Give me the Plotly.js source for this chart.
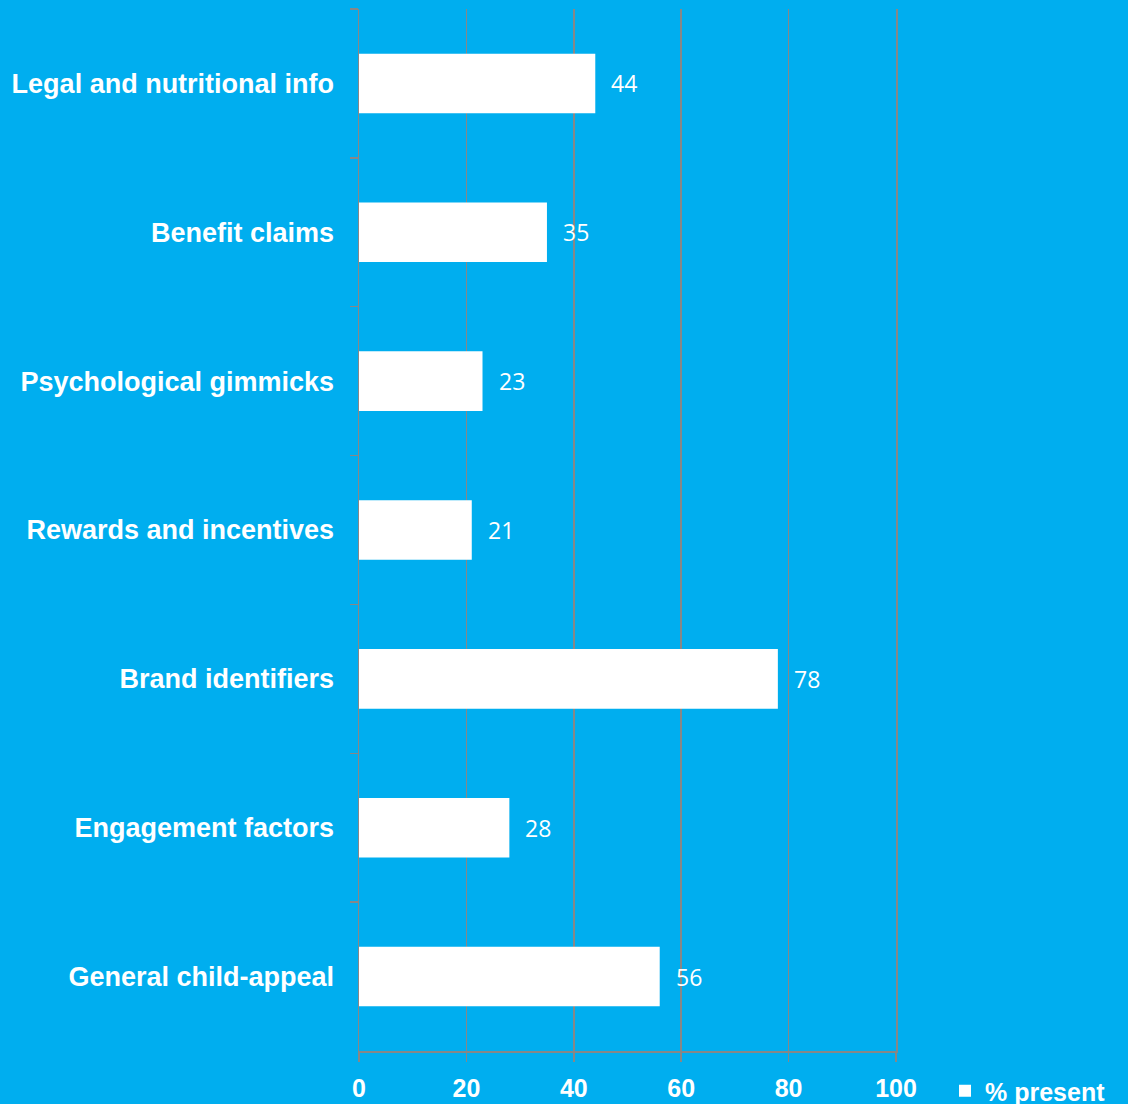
<!DOCTYPE html>
<html>
<head>
<meta charset="utf-8">
<script src="https://cdn.plot.ly/plotly-3.0.1.min.js"></script>
<style>html,body{margin:0;padding:0;background:#00AEEF;}#chart{width:1128px;height:1104px;}</style>
</head>
<body>
<div id="chart"></div>
<script>
const categories = ["Legal and nutritional info","Benefit claims","Psychological gimmicks","Rewards and incentives","Brand identifiers","Engagement factors","General child-appeal"];
const values = [44, 35, 23, 21, 78, 28, 56];
const seriesName = "% present";
const xTicks = [0, 20, 40, 60, 80, 100];

const bg = "#00AEEF";
const grid = "#878787";

const trace = {
  type: "bar",
  orientation: "h",
  y: categories,
  x: values,
  name: seriesName,
  marker: {color: "#ffffff", line: {width: 0}},
  showlegend: true,
  hoverinfo: "x+y"
};

const annotations = categories.map((c, i) => ({
  x: values[i], y: c, xref: "x", yref: "y",
  text: String(values[i]),
  showarrow: false, xanchor: "left", yanchor: "middle",
  xshift: 14,
  font: {family: "Open Sans, sans-serif", size: 23, color: "#ffffff"}
}));

const layout = {
  width: 1128, height: 1104,
  paper_bgcolor: bg, plot_bgcolor: bg,
  margin: {l: 359, r: 232, t: 9, b: 53, pad: 0},
  bargap: 0.6,
  font: {family: "Liberation Sans, Arial, sans-serif", color: "#ffffff"},
  xaxis: {
    range: [0, 100], tickvals: xTicks, ticktext: xTicks.map(String),
    showgrid: true, gridcolor: grid, gridwidth: 1.5,
    showline: true, linecolor: grid, linewidth: 1.5,
    ticks: "outside", ticklen: 9, tickcolor: grid, tickwidth: 1.5,
    zeroline: false,
    tickfont: {family: "Liberation Sans, Arial, sans-serif", size: 25, color: "#ffffff", weight: "bold"},
    ticklabelstandoff: 5,
    fixedrange: true
  },
  yaxis: {
    type: "category", autorange: "reversed",
    tickson: "boundaries", ticks: "outside", ticklen: 8, tickcolor: grid, tickwidth: 1.5,
    showgrid: false, showline: true, mirror: true, linecolor: grid, linewidth: 1.5,
    tickfont: {family: "Liberation Sans, Arial, sans-serif", size: 27, color: "#ffffff", weight: "bold"},
    ticklabelstandoff: 18,
    fixedrange: true
  },
  legend: {
    orientation: "h",
    xref: "container", yref: "container",
    x: 945/1128, y: 1 - 1068/1104, xanchor: "left", yanchor: "top",
    bgcolor: "rgba(0,0,0,0)",
    font: {family: "Liberation Sans, Arial, sans-serif", size: 25, color: "#ffffff", weight: "bold"},
    itemwidth: 30
  },
  annotations: annotations
};

Plotly.newPlot("chart", [trace], layout, {displayModeBar: false, staticPlot: true});
</script>
</body>
</html>
